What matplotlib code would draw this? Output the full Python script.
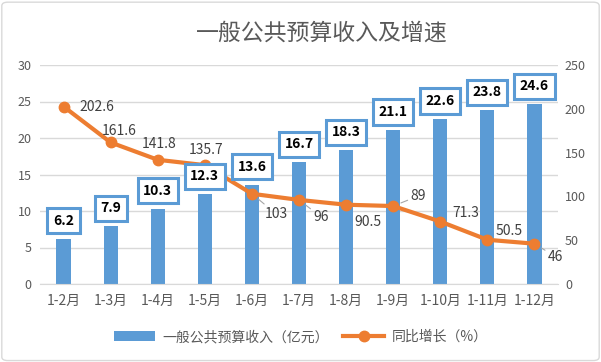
import matplotlib
matplotlib.use('Agg')
import matplotlib.pyplot as plt
from matplotlib.patches import FancyBboxPatch

plt.rcParams['font.family'] = ['Noto Sans CJK SC', 'DejaVu Sans']

months = ['1-2月', '1-3月', '1-4月', '1-5月', '1-6月', '1-7月', '1-8月', '1-9月', '1-10月', '1-11月', '1-12月']
revenue = [6.2, 7.9, 10.3, 12.3, 13.6, 16.7, 18.3, 21.1, 22.6, 23.8, 24.6]
growth = [202.6, 161.6, 141.8, 135.7, 103, 96, 90.5, 89, 71.3, 50.5, 46]

# line label offsets in pixels (dx, dy up)
line_off = [(33, 0), (9, 11), (1, 16), (1, 15), (24, -20), (22, -17), (22, -17), (25, 10), (26, 9), (22, 9), (21, -13)]
leader = [False, False, False, False, True, True, False, True, False, False, True]

blue = '#5B9BD5'
orange = '#ED7D31'
grey = '#595959'
px = 0.72  # points per pixel at 100 dpi

fig = plt.figure(figsize=(6.01, 3.62), dpi=100)
ax = fig.add_axes([40 / 601, 1 - 284 / 362, 518 / 601, 219 / 362])
ax2 = ax.twinx()

x = list(range(len(months)))
ax.bar(x, revenue, width=0.3, color=blue, zorder=2, label='一般公共预算收入（亿元）')
ax2.plot(x, growth, color=orange, lw=3, marker='o', ms=7.5, zorder=3, label='同比增长（%）')

ax.set_xlim(-0.5, len(months) - 0.5)
ax.set_ylim(0, 30)
ax.set_yticks(range(0, 31, 5))
ax2.set_ylim(0, 250)
ax2.set_yticks(range(0, 251, 50))
ax.yaxis.grid(True, color='#D9D9D9', lw=1)
ax.set_axisbelow(True)
for a in (ax, ax2):
    for s in a.spines.values():
        s.set_visible(False)
    a.tick_params(length=0, labelsize=9, colors=grey)
ax.spines['bottom'].set_visible(True)
ax.spines['bottom'].set_color('#D9D9D9')
ax.set_xticks(x)
ax.set_xticklabels(months, fontsize=10, color=grey)
ax.tick_params(axis='x', pad=7)
ax.tick_params(axis='y', pad=6)
ax2.tick_params(axis='y', pad=5)

# bar labels drawn on ax2 so the boxes sit over the line
for i, v in enumerate(revenue):
    ax2.annotate(f'{v}', (i, v), xycoords=ax.transData, xytext=(0, 18 * px), textcoords='offset points',
                 ha='center', va='center', fontsize=10, fontweight='bold', color='black', zorder=5,
                 bbox=dict(boxstyle='square,pad=0.4', fc='white', ec=blue, lw=2.2))

for i, v in enumerate(growth):
    dx, dy = line_off[i]
    props = None
    if leader[i]:
        props = dict(arrowstyle='-', color='#A6A6A6', lw=0.8, shrinkA=0, shrinkB=6)
    ax2.annotate(f'{v:g}', (i, v), xytext=(dx * px, dy * px), textcoords='offset points',
                 ha='center', va='center', fontsize=10, color='#404040', zorder=6,
                 arrowprops=props)

fig.text(322 / 601, 1 - 33 / 362, '一般公共预算收入及增速', ha='center', va='center', fontsize=16.5, color=grey)

h1, l1 = ax.get_legend_handles_labels()
h2, l2 = ax2.get_legend_handles_labels()
fig.legend(h1 + h2, l1 + l2, loc='center', bbox_to_anchor=(0.5, 1 - 337 / 362), ncol=2, frameon=False,
           fontsize=10, labelcolor=grey, handlelength=3, columnspacing=1.0, handletextpad=0.5)

fig.patches.append(FancyBboxPatch((0.003, 0.004), 0.994, 0.99, boxstyle='round,pad=0,rounding_size=0.01',
                                  transform=fig.transFigure, fc='none', ec='#D9D9D9', lw=1))

fig.savefig('out.png', dpi=100)
